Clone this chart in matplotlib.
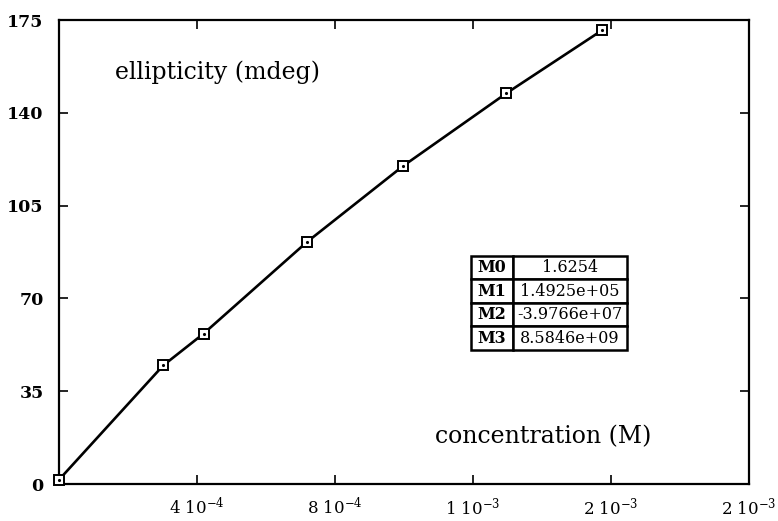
import matplotlib
matplotlib.use("Agg")
import matplotlib.pyplot as plt

# measured points (concentration in M, ellipticity in mdeg)
conc = [0.0, 3.02e-4, 4.19e-4, 7.18e-4, 9.97e-4, 1.296e-3, 1.575e-3]
ellip = [1.6, 44.7, 56.7, 91.2, 119.9, 147.3, 171.2]

# fit coefficients shown in the box
coef_names = ["M0", "M1", "M2", "M3"]
coef_values = ["1.6254", "1.4925e+05", "-3.9766e+07", "8.5846e+09"]

x_ticks = [4e-4, 8e-4, 1.2e-3, 1.6e-3, 2e-3]
x_ticklabels = [r"4 10$^{-4}$", r"8 10$^{-4}$", r"1 10$^{-3}$",
                r"2 10$^{-3}$", r"2 10$^{-3}$"]
y_ticks = [0, 35, 70, 105, 140, 175]

plt.rcParams["font.family"] = ["DejaVu Serif"]
plt.rcParams["mathtext.fontset"] = "dejavuserif"

fig = plt.figure(figsize=(7.78, 5.21), dpi=100)
ax = fig.add_axes([0.0758, 0.071, 0.8869, 0.8906])

ax.plot(conc, ellip, color="black", lw=1.9, zorder=2)
ax.plot(conc, ellip, ls="none", marker="s", ms=6.5, mfc="white",
        mec="black", mew=1.4, zorder=3, clip_on=False)
ax.plot(conc, ellip, ls="none", marker=".", ms=2.5, color="black",
        zorder=4, clip_on=False)

ax.set_xlim(0, 2e-3)
ax.set_ylim(0, 175)
ax.set_xticks(x_ticks)
ax.set_xticklabels(x_ticklabels, fontsize=12)
ax.set_yticks(y_ticks)
ax.set_yticklabels([str(v) for v in y_ticks], fontsize=12.5, fontweight="bold")
ax.tick_params(direction="in", length=6.5, width=1.2, top=True, right=True)
ax.tick_params(axis="x", pad=9)
ax.tick_params(axis="y", pad=11)
for s in ax.spines.values():
    s.set_linewidth(1.6)

ax.text(0.081, 0.873, "ellipticity (mdeg)", transform=ax.transAxes,
        fontsize=17, ha="left", va="baseline")
ax.text(0.545, 0.088, "concentration (M)", transform=ax.transAxes,
        fontsize=17, ha="left", va="baseline")

cells = [[n, v] for n, v in zip(coef_names, coef_values)]
tbl = ax.table(cellText=cells, cellLoc="center",
               bbox=[0.597, 0.289, 0.226, 0.203], colWidths=[0.27, 0.73])
tbl.auto_set_font_size(False)
tbl.set_fontsize(11.5)
for (r, c), cell in tbl.get_celld().items():
    cell.set_linewidth(1.8)
    cell.set_edgecolor("black")
    cell.set_facecolor("white")
    cell.PAD = 0.03
    cell.get_text().set_fontweight("bold" if c == 0 else "normal")

fig.savefig("out.png", dpi=100)
